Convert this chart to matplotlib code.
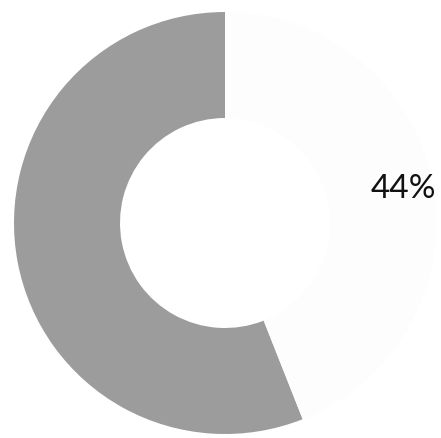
import matplotlib
matplotlib.use('Agg')
import matplotlib.pyplot as plt

# donut: grey share vs. pale share
shares = [56, 44]
shown_labels = ['', '44%']
colors = ['#9c9c9c', '#fdfdfd']

fig = plt.figure(figsize=(4.41, 4.38), dpi=100)
ax = fig.add_axes([0, 0, 1, 1])

def pct_label(p):
    # only the pale wedge carries a label
    for s, lab in zip(shares, shown_labels):
        if abs(p - s * 100 / sum(shares)) < 0.5:
            return lab
    return ''

wedges, texts, autotexts = ax.pie(
    shares, colors=colors, startangle=90, counterclock=True,
    center=(225, 215), radius=211, autopct=pct_label, pctdistance=0.86,
    wedgeprops=dict(width=106, linewidth=0),
    textprops=dict(fontsize=24, family=['Lato', 'DejaVu Sans'], color='#111111'))

ax.set_xlim(0, 441)
ax.set_ylim(0, 438)
ax.set_aspect('equal')
ax.axis('off')

plt.savefig('out.png', dpi=100)
